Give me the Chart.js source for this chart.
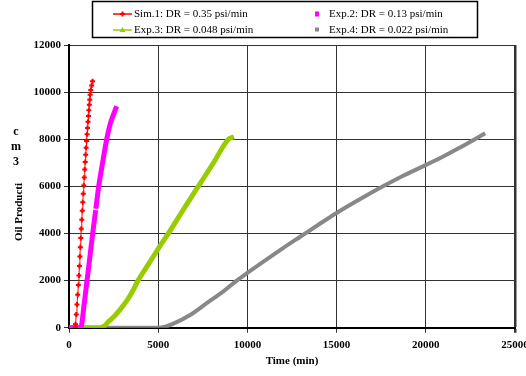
<!DOCTYPE html>
<html lang="en">
<head>
    <meta charset="UTF-8">
    <title>Oil Production vs Time</title>
    <script src="https://cdn.jsdelivr.net/npm/chart.js"></script>
    <style>
        body { margin: 0; background: #fff; }
        #wrap { position: relative; width: 526px; height: 376px; }
    </style>
</head>
<body>
    <div id="wrap">
        <canvas id="oilChart"></canvas>
    </div>

    <script>
        // series labels
        const seriesNames = [
            'Sim.1: DR = 0.35 psi/min',
            'Exp.2: DR = 0.13 psi/min',
            'Exp.3: DR = 0.048 psi/min',
            'Exp.4: DR = 0.022 psi/min'
        ];

        // Sim.1 (min, cm3)
        const sim1Time = [353, 367, 406, 447, 487, 526, 558, 584, 610, 636, 661, 688, 717, 745, 773, 801,
            827, 856, 883, 909, 935, 960, 984, 1012, 1039, 1066, 1091, 1116, 1140, 1162, 1184, 1220, 1271, 1320];
        const sim1Oil = [0, 150, 560, 980, 1400, 1810, 2220, 2620, 3020, 3420, 3810, 4200, 4580, 4960, 5330, 5690,
            6040, 6380, 6710, 7030, 7340, 7640, 7930, 8210, 8480, 8740, 8990, 9230, 9460, 9680, 9890, 10090, 10280, 10460];

        // Exp.2 (small break in the record near 5000 cm3)
        const exp2Time = [0, 650, 700, 850, 1010, 1170, 1329, 1495, 1500, 1505, 1664, 1834, 2114, 2300, 2486, 2673];
        const exp2Oil = [0, 0, 80, 1000, 2000, 3000, 4000, 4990, null, 5050, 6000, 6780, 8000, 8620, 9030, 9400];

        // Exp.3
        const exp3Time = [0, 1000, 1700, 2000, 2200, 2500, 2770, 3050, 3330, 3600, 3870, 4500, 5000, 5570, 6400, 7250, 8100, 8935, 9250];
        const exp3Oil = [0, 0, 0, 80, 250, 450, 680, 950, 1250, 1600, 2000, 2750, 3350, 4000, 5000, 6000, 7000, 8000, 8100];

        // Exp.4
        const exp4Time = [0, 2500, 5000, 5400, 5850, 6790, 7720, 8655, 9400, 10000, 11000, 12000, 13000, 14000, 15000,
            16300, 17600, 18700, 19900, 21000, 22100, 23330];
        const exp4Oil = [0, 0, 0, 40, 170, 540, 1040, 1540, 2000, 2330, 2860, 3380, 3880, 4380, 4870,
            5450, 6000, 6440, 6870, 7280, 7720, 8250];

        // axis ranges
        const timeMax = 25000, timeStep = 5000;
        const oilMax = 12000, oilStep = 2000;
        const xTitle = 'Time (min)';
        const yTitle = 'Oil Producti';
        const unitChars = ['c', 'm', '3'];

        const serif = '"Liberation Serif", "Times New Roman", serif';

        function pairs(xs, ys) {
            return xs.map((x, i) => ({ x: x, y: ys[i] }));
        }

        // y title: upright unit letters + rotated label
        const sideTitle = {
            id: 'sideTitle',
            afterDraw(chart) {
                const ctx = chart.ctx;
                ctx.save();
                ctx.fillStyle = '#000';
                ctx.textAlign = 'center';
                ctx.textBaseline = 'middle';
                ctx.font = 'bold 12px ' + serif;
                unitChars.forEach((c, i) => ctx.fillText(c, 16, 132 + i * 15));
                ctx.translate(19, 212);
                ctx.rotate(-Math.PI / 2);
                ctx.font = 'bold 11px ' + serif;
                ctx.fillText(yTitle, 0, 0);
                ctx.restore();
            }
        };

        // boxed legend, two columns
        const boxLegend = {
            id: 'boxLegend',
            afterDraw(chart) {
                const ctx = chart.ctx;
                const ds = chart.data.datasets;
                const slots = [[113, 14], [305, 14], [113, 30], [305, 30]];
                ctx.save();
                ctx.strokeStyle = '#000';
                ctx.lineWidth = 1.5;
                ctx.strokeRect(92.5, 1.5, 385, 36);

                ds.forEach((d, i) => {
                    const [sx, sy] = slots[i];
                    ctx.fillStyle = d.borderColor;
                    ctx.strokeStyle = d.borderColor;
                    if (i === 0 || i === 2) {
                        ctx.lineWidth = 1.5;
                        ctx.beginPath();
                        ctx.moveTo(sx, sy);
                        ctx.lineTo(sx + 19, sy);
                        ctx.stroke();
                        const cx = sx + 9.5;
                        if (i === 0) {
                            ctx.lineWidth = 2;
                            ctx.beginPath();
                            ctx.moveTo(cx - 2.5, sy); ctx.lineTo(cx + 2.5, sy);
                            ctx.moveTo(cx, sy - 2.5); ctx.lineTo(cx, sy + 2.5);
                            ctx.stroke();
                        } else {
                            ctx.beginPath();
                            ctx.moveTo(cx, sy - 3); ctx.lineTo(cx + 3, sy + 2); ctx.lineTo(cx - 3, sy + 2);
                            ctx.closePath();
                            ctx.fill();
                        }
                    } else {
                        ctx.fillRect(sx + 10, sy - 2.5, 4, i === 1 ? 5 : 4);
                    }
                    ctx.fillStyle = '#000';
                    ctx.font = '11px ' + serif;
                    ctx.textAlign = 'left';
                    ctx.textBaseline = 'middle';
                    ctx.fillText(d.label, sx + (i % 2 ? 24 : 21), sy + 0.5);
                });
                ctx.restore();
            }
        };

        const tickFont = { family: serif, size: 11, weight: 'bold' };

        const ctx = document.getElementById('oilChart').getContext('2d');
        const chart = new Chart(ctx, {
            type: 'scatter',
            data: {
                datasets: [
                    {
                        label: seriesNames[0],
                        data: pairs(sim1Time, sim1Oil),
                        showLine: true,
                        borderColor: '#ff0000',
                        backgroundColor: '#ff0000',
                        borderWidth: 1,
                        pointStyle: 'cross',
                        pointRadius: 2.5,
                        pointBorderWidth: 2
                    },
                    {
                        label: seriesNames[1],
                        data: pairs(exp2Time, exp2Oil),
                        showLine: true,
                        spanGaps: false,
                        cubicInterpolationMode: 'monotone',
                        borderColor: '#ff00ff',
                        backgroundColor: '#ff00ff',
                        borderWidth: 5,
                        pointRadius: 0
                    },
                    {
                        label: seriesNames[2],
                        data: pairs(exp3Time, exp3Oil),
                        showLine: true,
                        cubicInterpolationMode: 'monotone',
                        borderColor: '#99cc00',
                        backgroundColor: '#99cc00',
                        borderWidth: 5,
                        pointRadius: 0
                    },
                    {
                        label: seriesNames[3],
                        data: pairs(exp4Time, exp4Oil),
                        showLine: true,
                        cubicInterpolationMode: 'monotone',
                        borderColor: '#888888',
                        backgroundColor: '#888888',
                        borderWidth: 4,
                        pointRadius: 0
                    }
                ]
            },
            options: {
                responsive: true,
                maintainAspectRatio: false,
                animation: false,
                layout: { padding: { top: 45, right: 11, left: 0, bottom: 4 } },
                plugins: {
                    legend: { display: false },
                    tooltip: { enabled: false }
                },
                scales: {
                    x: {
                        type: 'linear',
                        min: 0,
                        max: timeMax,
                        afterFit: s => { s.height = 44.3; s.paddingLeft = 0; s.paddingRight = 0; },
                        ticks: {
                            stepSize: timeStep,
                            padding: 6,
                            color: '#000',
                            font: tickFont,
                            maxRotation: 0,
                            callback: v => String(v)
                        },
                        grid: {
                            color: '#333',
                            tickLength: 5,
                            lineWidth: c => (c.tick && c.tick.value === timeMax ? 2.5 : 1)
                        },
                        border: { color: '#000', width: 2 },
                        title: {
                            display: true,
                            text: xTitle,
                            color: '#000',
                            font: tickFont
                        }
                    },
                    y: {
                        min: 0,
                        max: oilMax,
                        afterFit: s => { s.width = 69; s.paddingTop = 0; s.paddingBottom = 0; },
                        ticks: {
                            stepSize: oilStep,
                            padding: 3,
                            color: '#000',
                            font: tickFont,
                            callback: v => String(v)
                        },
                        grid: { color: '#333', tickLength: 5 },
                        border: { color: '#000', width: 2 }
                    }
                }
            },
            plugins: [sideTitle, boxLegend]
        });
    </script>
</body>
</html>
